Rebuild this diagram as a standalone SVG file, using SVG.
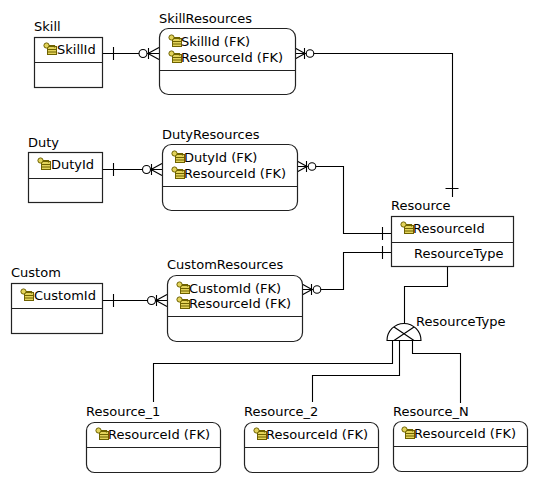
<svg xmlns="http://www.w3.org/2000/svg" xmlns:xlink="http://www.w3.org/1999/xlink" width="540" height="480" viewBox="0 0 540 480">
<style>
text{font-family:"DejaVu Sans","Liberation Sans",sans-serif;font-size:13px;fill:#000}
.box{fill:#fff;stroke:#222;stroke-width:1.2}
.div{stroke:#222;stroke-width:1.2}
.ln{fill:none;stroke:#000;stroke-width:1.1}
.circ{fill:#fff;stroke:#000;stroke-width:1.1}
</style>
<defs>
<symbol id="key" viewBox="0 0 14 13" width="14" height="13">
<rect x="4.5" y="4.5" width="9" height="8" fill="#e3d35a" stroke="#6e6200" stroke-width="1"/>
<line x1="4.5" y1="7.5" x2="13.5" y2="7.5" stroke="#6e6200" stroke-width="1"/>
<line x1="4.5" y1="10" x2="13.5" y2="10" stroke="#6e6200" stroke-width="1"/>
<circle cx="3.5" cy="3.5" r="2.6" fill="#e3d35a" stroke="#6e6200" stroke-width="1"/>
<path d="M6 3.5H11.5V5.5M9.5 3.5V5" fill="none" stroke="#6e6200" stroke-width="1.2"/>
</symbol>
</defs>

<g id="connectors">
<path class="ln" d="M102 53.5H159M113.5 47V60M148.5 48V59M148 53.5L159 47.5M148 53.5L159 59.5"/>
<circle class="circ" cx="143" cy="53.5" r="4"/>
<path class="ln" d="M102 169.5H162M113.5 163V176M151.5 164V175M151 169.5L162 163.5M151 169.5L162 175.5"/>
<circle class="circ" cx="146.5" cy="169.5" r="4"/>
<path class="ln" d="M102 300.5H167M113.5 294V307M156.5 295V306M156 300.5L167 294.5M156 300.5L167 306.5"/>
<circle class="circ" cx="151.5" cy="300.5" r="4"/>
<path class="ln" d="M295 53.5H452.5V197M445.5 188.5H458.5M295 48L305 53.5L295 59M304.5 48V59"/>
<circle class="circ" cx="310" cy="53.5" r="3.8"/>
<path class="ln" d="M297 166.5H343.5V233.5H391M382.5 227V240M297 161L307 166.5L297 172M306.5 161V172"/>
<circle class="circ" cx="312" cy="166.5" r="3.8"/>
<path class="ln" d="M302 289.5H343.5V252.5H391M382.5 246V259M302 284L312 289.5L302 295M311.5 284V295"/>
<circle class="circ" cx="317" cy="289.5" r="3.8"/>
<path class="ln" d="M447.5 266V286.5H404.5V323"/>
<path class="ln" d="M387 340.5A17 17 0 0 1 421 340.5ZM394 327L414 340.5M414 327L394 340.5"/>
<path class="ln" d="M392.5 340.5V363.5H153.5V402"/>
<path class="ln" d="M399.5 340.5V375.5H312.5V402"/>
<path class="ln" d="M412.5 340.5V353.5H460.5V403"/>
</g>

<g id="Skill">
<text x="34" y="31">Skill</text>
<rect class="box" x="34.5" y="37.5" width="68" height="50"/>
<line class="div" x1="34.5" y1="62.5" x2="102.5" y2="62.5"/>
<use xlink:href="#key" x="43" y="42"/>
<text x="57" y="54">SkillId</text>
</g>

<g id="SkillResources">
<text x="159" y="23">SkillResources</text>
<rect class="box" x="159.5" y="28.5" width="136" height="66" rx="9"/>
<line class="div" x1="159.5" y1="70.5" x2="295.5" y2="70.5"/>
<use xlink:href="#key" x="168" y="34"/>
<text x="181" y="46">SkillId (FK)</text>
<use xlink:href="#key" x="168" y="50"/>
<text x="181" y="62">ResourceId (FK)</text>
</g>

<g id="Duty">
<text x="28" y="147">Duty</text>
<rect class="box" x="28.5" y="152.5" width="74" height="50"/>
<line class="div" x1="28.5" y1="178.5" x2="102.5" y2="178.5"/>
<use xlink:href="#key" x="37" y="157"/>
<text x="51" y="169">DutyId</text>
</g>

<g id="DutyResources">
<text x="162" y="139">DutyResources</text>
<rect class="box" x="162.5" y="144.5" width="135" height="66" rx="9"/>
<line class="div" x1="162.5" y1="186.5" x2="297.5" y2="186.5"/>
<use xlink:href="#key" x="171" y="150"/>
<text x="184" y="162">DutyId (FK)</text>
<use xlink:href="#key" x="171" y="166"/>
<text x="184" y="178">ResourceId (FK)</text>
</g>

<g id="Custom">
<text x="11" y="277">Custom</text>
<rect class="box" x="11.5" y="283.5" width="91" height="50"/>
<line class="div" x1="11.5" y1="308.5" x2="102.5" y2="308.5"/>
<use xlink:href="#key" x="20" y="288"/>
<text x="34" y="300">CustomId</text>
</g>

<g id="CustomResources">
<text x="167" y="269">CustomResources</text>
<rect class="box" x="167.5" y="275.5" width="135" height="66" rx="9"/>
<line class="div" x1="167.5" y1="316.5" x2="302.5" y2="316.5"/>
<use xlink:href="#key" x="176" y="281"/>
<text x="189" y="293">CustomId (FK)</text>
<use xlink:href="#key" x="176" y="296"/>
<text x="189" y="308">ResourceId (FK)</text>
</g>

<g id="Resource">
<text x="391" y="210">Resource</text>
<rect class="box" x="391.5" y="216.5" width="122" height="50"/>
<line class="div" x1="391.5" y1="242.5" x2="513.5" y2="242.5"/>
<use xlink:href="#key" x="400" y="221"/>
<text x="413" y="233">ResourceId</text>
<text x="414" y="258">ResourceType</text>
</g>

<g id="subtype-label">
<text x="416" y="326">ResourceType</text>
</g>

<g id="Resource_1">
<text x="86" y="416">Resource_1</text>
<rect class="box" x="86.5" y="422.5" width="134" height="50" rx="8"/>
<line class="div" x1="86.5" y1="447.5" x2="220.5" y2="447.5"/>
<use xlink:href="#key" x="95" y="427"/>
<text x="108" y="439">ResourceId (FK)</text>
</g>

<g id="Resource_2">
<text x="244" y="416">Resource_2</text>
<rect class="box" x="244.5" y="422.5" width="134" height="50" rx="8"/>
<line class="div" x1="244.5" y1="447.5" x2="378.5" y2="447.5"/>
<use xlink:href="#key" x="253" y="427"/>
<text x="266" y="439">ResourceId (FK)</text>
</g>

<g id="Resource_N">
<text x="393" y="416">Resource_N</text>
<rect class="box" x="393.5" y="421.5" width="134" height="50" rx="8"/>
<line class="div" x1="393.5" y1="446.5" x2="527.5" y2="446.5"/>
<use xlink:href="#key" x="401" y="426"/>
<text x="414" y="438">ResourceId (FK)</text>
</g>
</svg>
